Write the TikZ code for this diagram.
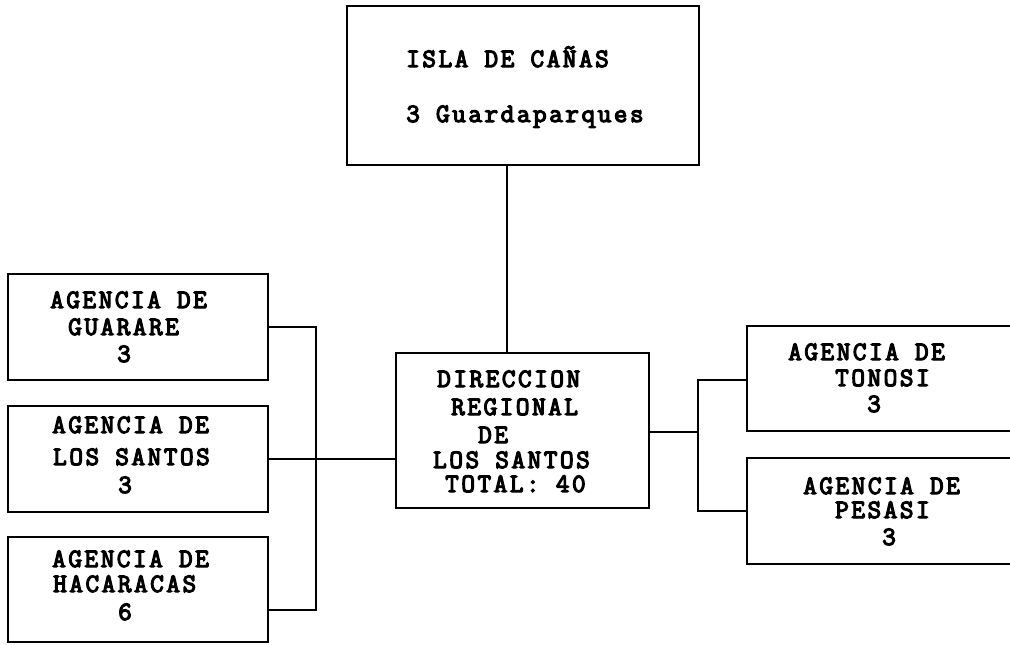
\documentclass[tikz,border=0pt]{standalone}
\usepackage{fontspec}
\newfontfamily\twfont[LetterSpace=9.5,FakeBold=4.5]{Latin Modern Mono}
\begin{document}
\begin{tikzpicture}[x=1pt,y=-1pt,
  box/.style={draw, line width=2.4pt, inner sep=0pt},
  txt/.style={anchor=base west, inner sep=0pt, font=\twfont\fontsize{26.5}{26.5}\selectfont},
  link/.style={line width=2.4pt}]
\useasboundingbox (0,0) rectangle (1010,645);
% boxes
\draw[box] (347,6) rectangle (699,165);
\coordinate (islaS) at (507,165);
\draw[box] (396,353) rectangle (649,508);
\coordinate (dirN) at (507,353);
\coordinate (dirW) at (396,459);
\coordinate (dirE) at (649,432);
\draw[box] (8,274) rectangle (268,380);
\draw[box] (8,406) rectangle (268,512);
\draw[box] (8,537) rectangle (268,642);
\draw[box] (1015,326) -- (747,326) -- (747,431) -- (1015,431);
\draw[box] (1015,458) -- (747,458) -- (747,564) -- (1015,564);
\coordinate (guaE) at (268,327);
\coordinate (lsE) at (268,459);
\coordinate (macE) at (268,610);
\coordinate (tonW) at (747,380);
\coordinate (pesW) at (747,511);
\coordinate (lbusT) at (316,327);
\coordinate (lbusB) at (316,610);
\coordinate (rbusT) at (698,380);
\coordinate (rbusB) at (698,511);
\coordinate (rbusM) at (698,432);
% connectors
\draw[link] (islaS) -- (dirN);
\draw[link] (guaE) -- (lbusT) -- (lbusB) -- (macE);
\draw[link] (lsE) -- (dirW);
\draw[link] (dirE) -- (rbusM);
\draw[link] (tonW) -- (rbusT) -- (rbusB) -- (pesW);
% texts
\node[txt] (t1) at (406,67) {ISLA DE CAÑAS};
\node[txt] (t2) at (406,122) {3 Guardaparques};
\node[txt] (g1) at (50,308) {AGENCIA DE};
\node[txt] (g2) at (68,335) {GUARARE};
\node[txt] (g3) at (117,362) {3};
\node[txt] (s1) at (52,433) {AGENCIA DE};
\node[txt] (s2) at (53,465) {LOS SANTOS};
\node[txt] (s3) at (118,493) {3};
\node[txt] (m1) at (52,567) {AGENCIA DE};
\node[txt] (m2) at (53,592) {HACARACAS};
\node[txt] (m3) at (118,620) {6};
\node[txt] (d1) at (437,387) {DIRECCION};
\node[txt] (d2) at (451,415) {REGIONAL};
\node[txt] (d3) at (478,443) {DE};
\node[txt] (d4) at (433,468) {LOS SANTOS};
\node[txt] (d5) at (445,492) {TOTAL: 40};
\node[txt] (n1) at (788,360) {AGENCIA DE};
\node[txt] (n2) at (835,386) {TONOSI};
\node[txt] (n3) at (867,412) {3};
\node[txt] (p1) at (803,494) {AGENCIA DE};
\node[txt] (p2) at (835,518) {PESASI};
\node[txt] (p3) at (882,545) {3};
\end{tikzpicture}
\end{document}
